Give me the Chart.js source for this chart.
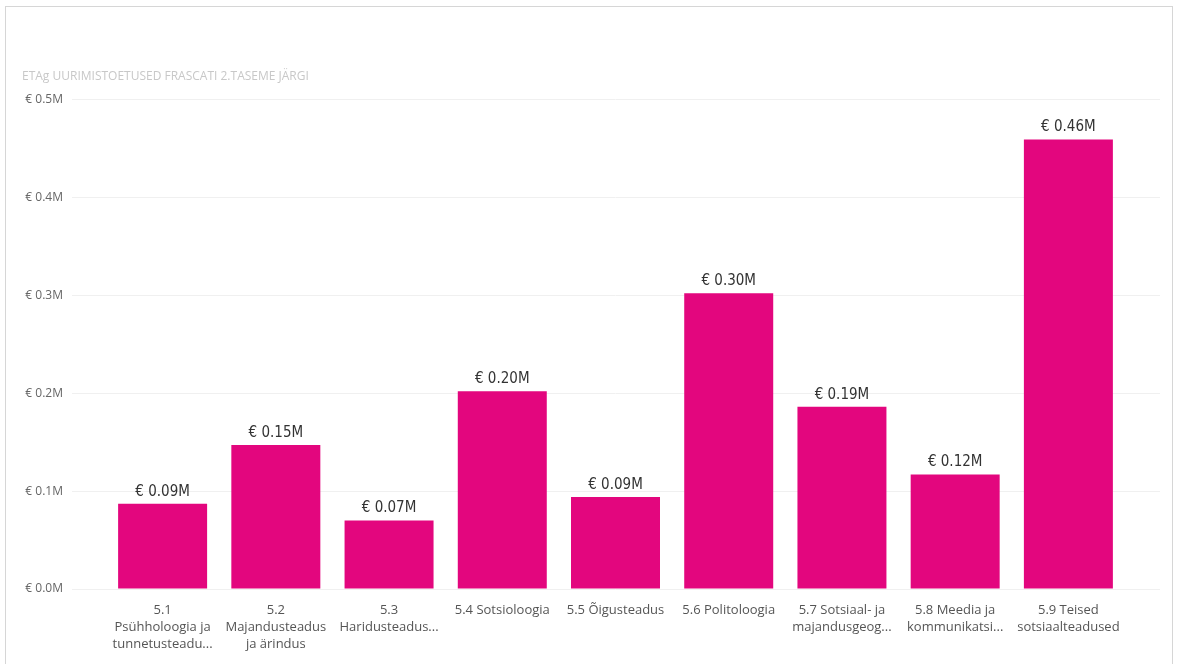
<!DOCTYPE html>
<html>
<head>
<meta charset="utf-8">
<script src="https://cdn.jsdelivr.net/npm/chart.js@4.4.0/dist/chart.umd.min.js"></script>
<style>
  html, body { margin: 0; padding: 0; background: #fff; overflow: hidden; }
  #wrap { position: relative; width: 1178px; height: 664px; }
  #frame { position: absolute; left: 5px; top: 6px; width: 1168px; height: 680px; border: 1px solid #d6d6d6; box-sizing: border-box; }
  canvas { position: absolute; left: 0; top: 0; }
</style>
</head>
<body>
<div id="wrap">
  <div id="frame"></div>
  <canvas id="chartCanvas" width="1178" height="664"></canvas>
</div>
<script>
  // Categories (Frascati level 2) and their grant sums in million euros
  const categories = [
    "5.1 Psühholoogia ja tunnetusteadused",
    "5.2 Majandusteadus ja ärindus",
    "5.3 Haridusteadused",
    "5.4 Sotsioloogia",
    "5.5 Õigusteadus",
    "5.6 Politoloogia",
    "5.7 Sotsiaal- ja majandusgeograafia",
    "5.8 Meedia ja kommunikatsioon",
    "5.9 Teised sotsiaalteadused"
  ];
  const tickLabels = [
    ["5.1", "Psühholoogia ja", "tunnetusteadu..."],
    ["5.2", "Majandusteadus", "ja ärindus"],
    ["5.3", "Haridusteadus..."],
    ["5.4 Sotsioloogia"],
    ["5.5 Õigusteadus"],
    ["5.6 Politoloogia"],
    ["5.7 Sotsiaal- ja", "majandusgeog..."],
    ["5.8 Meedia ja", "kommunikatsi..."],
    ["5.9 Teised", "sotsiaalteadused"]
  ];
  const amounts = [0.087, 0.147, 0.070, 0.202, 0.094, 0.302, 0.186, 0.117, 0.459];
  const yTicks = [0, 0.1, 0.2, 0.3, 0.4, 0.5];

  const chartTitle = "ETAg UURIMISTOETUSED FRASCATI 2.TASEME JÄRGI";
  const barColor = "#E3067E";
  const gridColor = "#f0f0f0";

  // Draws the value above each bar
  const valueLabels = {
    id: "valueLabels",
    afterDatasetsDraw(chart) {
      const ctx = chart.ctx;
      const meta = chart.getDatasetMeta(0);
      ctx.save();
      ctx.font = "15px 'DejaVu Sans Condensed', Roboto, sans-serif";
      ctx.fillStyle = "#333333";
      ctx.textAlign = "center";
      ctx.textBaseline = "middle";
      meta.data.forEach((bar, i) => {
        const v = chart.data.datasets[0].data[i];
        ctx.fillText("€ " + v.toFixed(2) + "M", bar.x, bar.y - 12);
      });
      ctx.restore();
    }
  };

  const chart = new Chart(document.getElementById("chartCanvas"), {
    type: "bar",
    data: {
      labels: tickLabels,
      datasets: [{
        label: "Summa",
        data: amounts,
        backgroundColor: barColor,
        categoryPercentage: 1,
        barPercentage: 0.786
      }]
    },
    options: {
      responsive: false,
      animation: false,
      layout: { padding: { top: 66, left: 22, right: 18, bottom: 0 } },
      plugins: {
        legend: { display: false },
        tooltip: { enabled: false },
        title: {
          display: true,
          text: chartTitle,
          align: "start",
          color: "#c8c8c8",
          font: { family: "'Open Sans', sans-serif", size: 12, weight: "normal" },
          padding: { top: 3, bottom: 16 }
        }
      },
      scales: {
        x: {
          grid: { display: false },
          border: { display: false },
          ticks: {
            color: "#555555",
            font: { family: "'Open Sans', sans-serif", size: 13, lineHeight: 1.3 },
            padding: 5,
            maxRotation: 0,
            autoSkip: false
          },
          afterFit(scale) { scale.height = 75; }
        },
        y: {
          min: 0,
          max: 0.5,
          afterBuildTicks(scale) { scale.ticks = yTicks.map(v => ({ value: v })); },
          grid: { color: gridColor, tickLength: 34, tickColor: gridColor },
          border: { display: false },
          ticks: {
            color: "#666666",
            font: { family: "'Open Sans', sans-serif", size: 12 },
            padding: 9,
            callback: v => "€ " + v.toFixed(1) + "M"
          },
          afterFit(scale) { scale.width = 84; }
        },
        y2: {
          type: "linear",
          position: "right",
          min: 0,
          max: 0.5,
          afterBuildTicks(scale) { scale.ticks = yTicks.map(v => ({ value: v })); },
          grid: { drawOnChartArea: false, tickLength: 35, tickColor: gridColor },
          border: { display: false },
          ticks: { display: false },
          afterFit(scale) { scale.width = 35; }
        }
      }
    },
    plugins: [valueLabels]
  });
</script>
</body>
</html>
